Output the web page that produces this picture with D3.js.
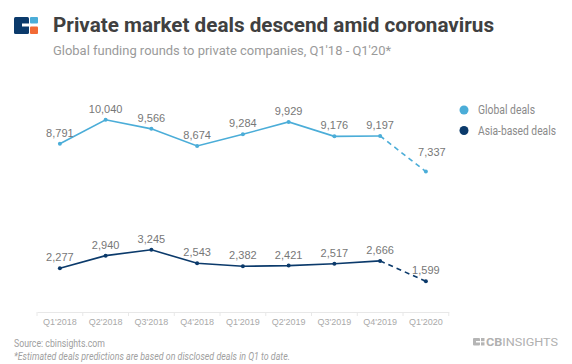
<!DOCTYPE html>
<html>
<head>
<meta charset="utf-8">
<script src="https://cdn.jsdelivr.net/npm/d3@7"></script>
<style>
  body { margin: 0; background: #fff; }
  text { font-family: Roboto, "Liberation Sans", sans-serif; }
</style>
</head>
<body>
<svg width="572" height="364"></svg>
<script>
// data
var quarters = ["Q1'2018", "Q2'2018", "Q3'2018", "Q4'2018", "Q1'2019", "Q2'2019", "Q3'2019", "Q4'2019", "Q1'2020"];
var globalDeals = [8791, 10040, 9566, 8674, 9284, 9929, 9176, 9197, 7337];
var asiaDeals = [2277, 2940, 3245, 2543, 2382, 2421, 2517, 2666, 1599];
var seriesNames = ["Global deals", "Asia-based deals"];
var seriesColors = ["#4badd8", "#0b3a6b"];

var svg = d3.select("svg"),
    width = +svg.attr("width"),
    height = +svg.attr("height");

// header
var logo = svg.append("g").attr("class", "logo");
logo.append("rect").attr("x", 14).attr("y", 17).attr("width", 15).attr("height", 17).attr("rx", 1.5).attr("fill", "#0b3a6b");
logo.append("rect").attr("x", 22).attr("y", 23.5).attr("width", 8).attr("height", 3).attr("fill", "#fff");
logo.append("rect").attr("x", 30).attr("y", 17).attr("width", 8).attr("height", 6.5).attr("rx", 1).attr("fill", "#4badd8");
logo.append("rect").attr("x", 30).attr("y", 26.5).attr("width", 8).attr("height", 7.5).attr("rx", 1).attr("fill", "#f26a35");

svg.append("text")
    .attr("x", 53).attr("y", 32)
    .attr("font-size", 20).attr("font-weight", "bold")
    .attr("fill", "#404040")
    .attr("textLength", 441).attr("lengthAdjust", "spacingAndGlyphs")
    .text("Private market deals descend amid coronavirus");

svg.append("text")
    .attr("x", 53).attr("y", 55)
    .attr("font-size", 13)
    .attr("fill", "#9a9a9a")
    .attr("textLength", 338).attr("lengthAdjust", "spacingAndGlyphs")
    .text("Global funding rounds to private companies, Q1'18 - Q1'20*");

// scales
var x = d3.scaleBand().domain(quarters).range([37, 448.75]).padding(0);
var cx = function(d) { return x(d) + x.bandwidth() / 2; };
var y = d3.scaleLinear().domain([0, 12000]).range([311.9, 82.3]);

// axis
var axisY = 312;
var axis = svg.append("g")
    .attr("transform", "translate(0," + axisY + ")")
    .call(d3.axisBottom(x).tickSize(0).tickPadding(7));
axis.select(".domain").attr("stroke", "#e8e8e8");
axis.selectAll("text")
    .attr("fill", "#aaa")
    .attr("font-size", 9)
    .style("font-family", "'Liberation Sans', Arial, sans-serif");

var bounds = quarters.map(function(q) { return x(q); }).concat([x.range()[1]]);
axis.selectAll(".bound")
    .data(bounds)
    .enter().append("line")
    .attr("class", "bound")
    .attr("x1", function(d) { return d; })
    .attr("x2", function(d) { return d; })
    .attr("y1", 0).attr("y2", 4)
    .attr("stroke", "#e8e8e8");

// series
var series = [globalDeals, asiaDeals];
var line = d3.line()
    .x(function(d) { return cx(d.q); })
    .y(function(d) { return y(d.v); });

series.forEach(function(vals, si) {
  var pts = vals.map(function(v, i) { return { q: quarters[i], v: v }; });
  var g = svg.append("g").attr("class", "series");
  var solid = pts.slice(0, pts.length - 1);
  var dashed = pts.slice(pts.length - 2);

  g.append("path")
      .attr("d", line(solid))
      .attr("fill", "none")
      .attr("stroke", seriesColors[si])
      .attr("stroke-width", 1.6);
  g.append("path")
      .attr("d", line(dashed))
      .attr("fill", "none")
      .attr("stroke", seriesColors[si])
      .attr("stroke-width", 1.6)
      .attr("stroke-dasharray", "5,4");

  g.selectAll("circle")
      .data(pts)
      .enter().append("circle")
      .attr("cx", function(d) { return cx(d.q); })
      .attr("cy", function(d) { return y(d.v); })
      .attr("r", 2)
      .attr("fill", seriesColors[si]);

  // the last global label sits higher, clear of the dashed line
  g.selectAll(".lbl")
      .data(pts)
      .enter().append("text")
      .attr("class", "lbl")
      .attr("x", function(d, i) { return cx(d.q) + (si == 0 && i == pts.length - 1 ? 6 : 0); })
      .attr("y", function(d, i) { return y(d.v) - (si == 0 && i == pts.length - 1 ? 16 : 7); })
      .attr("text-anchor", "middle")
      .attr("font-size", 11)
      .attr("fill", "#777")
      .style("font-family", "'Liberation Sans', Arial, sans-serif")
      .text(function(d) { return d3.format(",")(d.v); });
});

// legend
var legend = svg.append("g").attr("class", "legend");
seriesNames.forEach(function(name, i) {
  legend.append("circle")
      .attr("cx", 464).attr("cy", 110 + i * 20.5)
      .attr("r", 4.5)
      .attr("fill", seriesColors[i]);
  legend.append("text")
      .attr("x", 478).attr("y", 114 + i * 20.5)
      .attr("font-size", 12.5)
      .attr("fill", "#8a8a8a")
      .attr("textLength", i == 0 ? 57 : 78).attr("lengthAdjust", "spacingAndGlyphs")
      .text(name);
});

// footer
svg.append("text")
    .attr("x", 14).attr("y", 347)
    .attr("font-size", 10.5)
    .attr("fill", "#a0a0a0")
    .attr("textLength", 91).attr("lengthAdjust", "spacingAndGlyphs")
    .text("Source: cbinsights.com");
svg.append("text")
    .attr("x", 14).attr("y", 360)
    .attr("font-size", 10.5)
    .attr("font-style", "italic")
    .attr("fill", "#a0a0a0")
    .attr("textLength", 276).attr("lengthAdjust", "spacingAndGlyphs")
    .text("*Estimated deals predictions are based on disclosed deals in Q1 to date.");

var cb = svg.append("g").attr("class", "cblogo");
cb.append("rect").attr("x", 473).attr("y", 338).attr("width", 7).attr("height", 7.5).attr("rx", 1).attr("fill", "#b5b5b5");
cb.append("rect").attr("x", 476).attr("y", 341).attr("width", 4).attr("height", 1.5).attr("fill", "#fff");
cb.append("rect").attr("x", 481).attr("y", 338).attr("width", 3.5).attr("height", 3.2).attr("fill", "#b5b5b5");
cb.append("rect").attr("x", 481).attr("y", 342.3).attr("width", 3.5).attr("height", 3.2).attr("fill", "#b5b5b5");
cb.append("text")
    .attr("x", 486).attr("y", 345.5)
    .attr("font-size", 10)
    .attr("fill", "#b0b0b0")
    .attr("textLength", 72).attr("lengthAdjust", "spacingAndGlyphs")
    .html("<tspan font-weight='bold'>CB</tspan>INSIGHTS");
</script>
</body>
</html>
